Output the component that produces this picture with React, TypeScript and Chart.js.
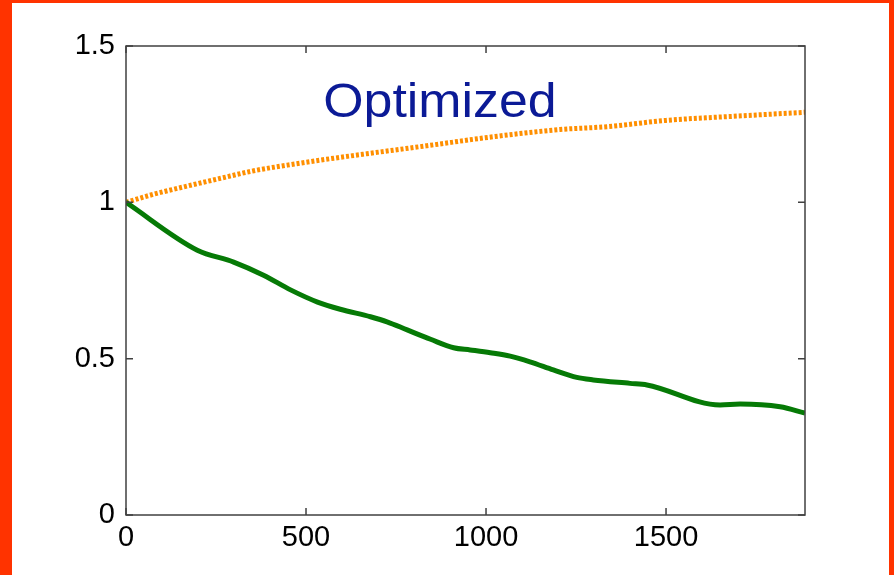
import React, { useEffect, useRef } from "react";
import { Chart, registerables } from "chart.js";

Chart.register(...registerables);

// Iteration counts (x) and normalized values (y) for the two traces
const baselineX = [0, 198, 299, 382, 457, 532, 595, 679, 725, 781, 846, 910, 956, 1012, 1067, 1122, 1187, 1252, 1298, 1400, 1447, 1650, 1706, 1817, 1886];
const baselineY = [1.0, 0.847, 0.809, 0.767, 0.72, 0.681, 0.658, 0.634, 0.618, 0.592, 0.562, 0.535, 0.528, 0.519, 0.508, 0.49, 0.464, 0.44, 0.432, 0.421, 0.416, 0.352, 0.355, 0.346, 0.326];

const optimizedX = [0, 77, 170, 263, 355, 448, 540, 679, 836, 1021, 1206, 1336, 1500, 1700, 1886];
const optimizedY = [1.0, 1.026, 1.052, 1.077, 1.101, 1.119, 1.135, 1.157, 1.181, 1.21, 1.233, 1.242, 1.262, 1.276, 1.288];

const xTicks = [0, 500, 1000, 1500];
const yTicks = [0, 0.5, 1, 1.5];
const xMax = 1886;
const yMax = 1.5;

const annotationText = "Optimized";
const annotationAt = { x: 548, y: 1.273 };

const FONT = '"Liberation Sans", Arial, Helvetica, sans-serif';

const toPoints = (xs: number[], ys: number[]) => xs.map((x, i) => ({ x, y: ys[i] }));

// Box frame with inward tick marks on all four sides, plus the text label
const framePlugin = {
  id: "frame",
  afterDraw(chart: any) {
    const { ctx, chartArea } = chart;
    const xs = chart.scales.x;
    const ys = chart.scales.y;
    const { left, right, top, bottom } = chartArea;
    const tl = 7;
    ctx.save();
    ctx.strokeStyle = "#404040";
    ctx.lineWidth = 1.5;
    ctx.strokeRect(left, top, right - left, bottom - top);
    ctx.beginPath();
    xTicks.forEach((v) => {
      const px = xs.getPixelForValue(v);
      ctx.moveTo(px, bottom);
      ctx.lineTo(px, bottom - tl);
      ctx.moveTo(px, top);
      ctx.lineTo(px, top + tl);
    });
    yTicks.forEach((v) => {
      const py = ys.getPixelForValue(v);
      ctx.moveTo(left, py);
      ctx.lineTo(left + tl, py);
      ctx.moveTo(right, py);
      ctx.lineTo(right - tl, py);
    });
    ctx.stroke();

    // label text, slightly widened
    const tx = xs.getPixelForValue(annotationAt.x);
    const ty = ys.getPixelForValue(annotationAt.y);
    ctx.translate(tx, ty);
    ctx.scale(1.08, 1);
    ctx.fillStyle = "#0b1a96";
    ctx.font = `48px ${FONT}`;
    ctx.textAlign = "left";
    ctx.textBaseline = "alphabetic";
    ctx.fillText(annotationText, 0, 0);
    ctx.restore();
  },
};

export default function App() {
  const canvasRef = useRef<HTMLCanvasElement | null>(null);

  useEffect(() => {
    const canvas = canvasRef.current;
    if (!canvas) return;
    const chart = new Chart(canvas, {
      type: "line",
      data: {
        datasets: [
          {
            label: "baseline",
            data: toPoints(baselineX, baselineY),
            borderColor: "#067a06",
            borderWidth: 5,
            pointRadius: 0,
            cubicInterpolationMode: "monotone",
            fill: false,
          },
          {
            label: "optimized",
            data: toPoints(optimizedX, optimizedY),
            borderColor: "#ff8f00",
            borderWidth: 5,
            borderDash: [3, 2],
            borderCapStyle: "butt",
            pointRadius: 0,
            cubicInterpolationMode: "monotone",
            fill: false,
          },
        ],
      },
      options: {
        animation: false,
        responsive: false,
        devicePixelRatio: 1,
        layout: { padding: { top: 46, right: 89, left: 0, bottom: 0 } },
        plugins: {
          legend: { display: false },
          tooltip: { enabled: false },
        },
        scales: {
          x: {
            type: "linear",
            min: 0,
            max: xMax,
            grid: { display: false, drawTicks: false },
            border: { display: false },
            afterBuildTicks: (scale: any) => {
              scale.ticks = xTicks.map((value) => ({ value }));
            },
            ticks: {
              maxRotation: 0,
              autoSkip: false,
              color: "#000",
              padding: 6,
              font: { family: FONT, size: 29 },
              callback: (value: any) => String(value),
            },
            afterFit: (scale: any) => {
              scale.height = 60;
            },
          },
          y: {
            type: "linear",
            min: 0,
            max: yMax,
            grid: { display: false, drawTicks: false },
            border: { display: false },
            afterBuildTicks: (scale: any) => {
              scale.ticks = yTicks.map((value) => ({ value }));
            },
            ticks: {
              autoSkip: false,
              color: "#000",
              padding: 11,
              font: { family: FONT, size: 29 },
              callback: (value: any) => String(value),
            },
            afterFit: (scale: any) => {
              scale.width = 126;
            },
          },
        },
      },
      plugins: [framePlugin],
    });
    return () => chart.destroy();
  }, []);

  return (
    <div style={{ position: "fixed", left: 0, top: 0, width: 894, height: 575, background: "#ff3300" }}>
      <div style={{ position: "absolute", left: 12, top: 3, width: 877, height: 572, background: "#fff" }} />
      <canvas ref={canvasRef} width={894} height={575} style={{ position: "absolute", left: 0, top: 0, width: 894, height: 575 }} />
    </div>
  );
}
